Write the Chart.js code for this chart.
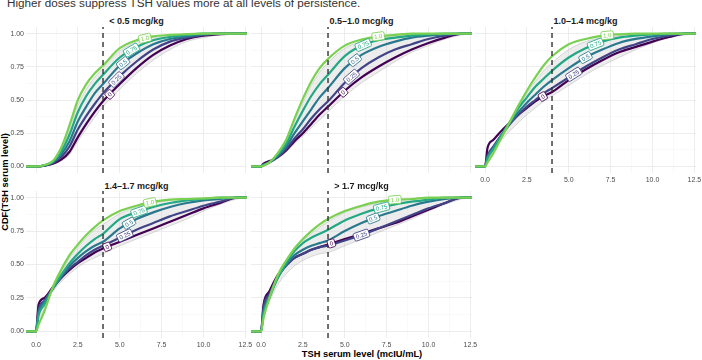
<!DOCTYPE html>
<html><head><meta charset="utf-8">
<script src="https://cdn.jsdelivr.net/npm/chart.js@4.4.1/dist/chart.umd.min.js"></script>
<style>
html,body{margin:0;padding:0;background:#fff;width:702px;height:360px;overflow:hidden;position:relative;font-family:"Liberation Sans",Arial,sans-serif;}
canvas{position:absolute;}
.t{position:absolute;white-space:nowrap;}
#title{left:7px;top:-3px;font-size:11.7px;line-height:12px;color:#333;}
.strip{font-size:9px;font-weight:bold;color:#1a1a1a;line-height:10px;transform:translate(-50%,-50%);}
#ylab{left:4.5px;top:182px;font-size:9.3px;font-weight:bold;color:#000;line-height:10px;transform:translate(-50%,-50%) rotate(-90deg);}
#xlab{left:362px;top:354px;font-size:9.3px;font-weight:bold;color:#000;line-height:10px;transform:translate(-50%,-50%);}
</style></head>
<body>
<div id="title" class="t">Higher doses suppress TSH values more at all levels of persistence.</div>
<div id="ylab" class="t">CDF(TSH serum level)</div>
<div id="xlab" class="t">TSH serum level (mcIU/mL)</div>
<script>
// ---------- data ----------
const doseGroups = ['< 0.5 mcg/kg', '0.5–1.0 mcg/kg', '1.0–1.4 mcg/kg', '1.4–1.7 mcg/kg', '> 1.7 mcg/kg'];
const persistence = ['0', '0.25', '0.5', '0.75', '1.0'];
const xMajor = [0, 2.5, 5, 7.5, 10, 12.5];
const xTickLabels = ['0.0', '2.5', '5.0', '7.5', '10.0', '12.5'];
const xMinor = [1.25, 3.75, 6.25, 8.75, 11.25];
const yMajor = [0, 0.25, 0.5, 0.75, 1];
const yTickLabels = ['0.00', '0.25', '0.50', '0.75', '1.00'];
const yMinor = [0.125, 0.375, 0.625, 0.875];
const threshold = 4;

// TSH values at which the CDFs were read
const tsh = [-0.6, 0, 0.15, 0.5, 1, 1.5, 2, 2.5, 3, 3.5, 4, 5, 6, 7, 8, 9, 10, 11, 12, 12.6];

// < 0.5 mcg/kg
const lt05_p0   = [0,0,0,0.005,0.02,0.05,0.11,0.22,0.32,0.41,0.49,0.62,0.74,0.84,0.91,0.96,0.985,0.997,1,1];
const lt05_p25  = [0,0,0,0.006,0.025,0.07,0.15,0.28,0.38,0.47,0.55,0.68,0.79,0.88,0.94,0.97,0.99,1,1,1];
const lt05_p50  = [0,0,0,0.007,0.03,0.09,0.19,0.34,0.45,0.55,0.62,0.76,0.85,0.92,0.96,0.98,0.995,1,1,1];
const lt05_p75  = [0,0,0,0.008,0.035,0.11,0.24,0.41,0.53,0.62,0.69,0.82,0.9,0.95,0.975,0.99,1,1,1,1];
const lt05_p100 = [0,0,0,0.01,0.04,0.14,0.31,0.5,0.62,0.7,0.76,0.89,0.95,0.98,0.99,0.997,1,1,1,1];
const lt05_low  = [0,0,0,0.003,0.015,0.04,0.09,0.19,0.28,0.37,0.45,0.58,0.7,0.8,0.88,0.94,0.97,0.99,1,1];
const lt05_high = [0,0,0,0.009,0.038,0.12,0.28,0.46,0.58,0.67,0.74,0.87,0.94,0.97,0.985,0.995,1,1,1,1];

// 0.5–1.0 mcg/kg
const d0510_p0   = [0,0,0.02,0.04,0.07,0.12,0.19,0.25,0.32,0.39,0.45,0.57,0.67,0.75,0.82,0.88,0.93,0.97,1,1];
const d0510_p25  = [0,0,0.01,0.03,0.07,0.13,0.21,0.28,0.36,0.43,0.49,0.63,0.74,0.82,0.88,0.92,0.96,0.985,1,1];
const d0510_p50  = [0,0,0.01,0.03,0.08,0.15,0.25,0.34,0.43,0.52,0.59,0.74,0.84,0.9,0.94,0.97,0.985,0.995,1,1];
const d0510_p75  = [0,0,0.01,0.03,0.09,0.17,0.3,0.42,0.53,0.62,0.69,0.83,0.91,0.95,0.97,0.985,0.995,1,1,1];
const d0510_p100 = [0,0,0.005,0.03,0.1,0.2,0.36,0.51,0.64,0.74,0.81,0.91,0.955,0.98,0.99,1,1,1,1,1];
const d0510_low  = [0,0,0.01,0.03,0.06,0.11,0.17,0.23,0.29,0.35,0.41,0.53,0.63,0.71,0.79,0.86,0.91,0.96,0.99,1];
const d0510_high = [0,0,0.005,0.03,0.1,0.19,0.34,0.48,0.61,0.71,0.78,0.89,0.94,0.97,0.985,0.995,1,1,1,1];

// 1.0–1.4 mcg/kg
const d1014_p0   = [0,0,0.14,0.2,0.27,0.33,0.39,0.44,0.49,0.53,0.56,0.65,0.73,0.8,0.86,0.9,0.94,0.975,1,1];
const d1014_p25  = [0,0,0.08,0.15,0.24,0.32,0.39,0.45,0.5,0.55,0.59,0.67,0.75,0.82,0.88,0.92,0.96,0.985,1,1];
const d1014_p50  = [0,0,0.07,0.14,0.24,0.33,0.41,0.48,0.54,0.6,0.65,0.74,0.82,0.88,0.93,0.96,0.98,0.995,1,1];
const d1014_p75  = [0,0,0.06,0.13,0.24,0.34,0.44,0.52,0.6,0.66,0.72,0.82,0.89,0.94,0.97,0.985,0.995,1,1,1];
const d1014_p100 = [0,0,0.03,0.1,0.22,0.34,0.46,0.57,0.67,0.76,0.83,0.92,0.96,0.985,0.995,1,1,1,1,1];
const d1014_low  = [0,0,0.08,0.13,0.2,0.27,0.33,0.39,0.44,0.49,0.53,0.61,0.69,0.76,0.82,0.88,0.93,0.97,0.99,1];
const d1014_high = [0,0,0.05,0.12,0.23,0.34,0.45,0.55,0.64,0.72,0.78,0.88,0.94,0.97,0.985,0.995,1,1,1,1];

// 1.4–1.7 mcg/kg
const d1417_p0   = [0,0,0.2,0.25,0.33,0.4,0.46,0.51,0.55,0.59,0.62,0.67,0.72,0.77,0.82,0.87,0.92,0.96,1,1];
const d1417_p25  = [0,0,0.16,0.23,0.32,0.4,0.47,0.52,0.57,0.61,0.64,0.7,0.76,0.81,0.86,0.9,0.94,0.97,1,1];
const d1417_p50  = [0,0,0.14,0.22,0.32,0.41,0.49,0.55,0.6,0.64,0.67,0.77,0.84,0.89,0.93,0.96,0.98,0.99,1,1];
const d1417_p75  = [0,0,0.12,0.2,0.32,0.42,0.51,0.58,0.64,0.69,0.73,0.84,0.89,0.93,0.96,0.98,0.99,1,1,1];
const d1417_p100 = [0,0,0.05,0.15,0.33,0.46,0.57,0.65,0.72,0.78,0.83,0.9,0.94,0.97,0.985,0.99,0.995,1,1,1];
const d1417_low  = [0,0,0.15,0.22,0.3,0.37,0.43,0.48,0.52,0.55,0.58,0.64,0.69,0.74,0.79,0.84,0.9,0.95,0.99,1];
const d1417_high = [0,0,0.08,0.17,0.32,0.44,0.55,0.63,0.7,0.76,0.8,0.88,0.93,0.96,0.98,0.99,0.995,1,1,1];

// > 1.7 mcg/kg
const gt17_p0   = [0,0,0.2,0.3,0.42,0.5,0.55,0.58,0.61,0.63,0.65,0.69,0.73,0.77,0.81,0.86,0.91,0.96,1,1];
const gt17_p25  = [0,0,0.18,0.28,0.41,0.49,0.55,0.58,0.61,0.63,0.64,0.68,0.72,0.77,0.82,0.87,0.92,0.96,1,1];
const gt17_p50  = [0,0,0.15,0.26,0.4,0.5,0.57,0.61,0.64,0.66,0.68,0.75,0.81,0.86,0.9,0.94,0.97,0.99,1,1];
const gt17_p75  = [0,0,0.13,0.25,0.4,0.51,0.6,0.66,0.7,0.73,0.76,0.83,0.88,0.92,0.95,0.97,0.985,1,1,1];
const gt17_p100 = [0,0,0.1,0.25,0.42,0.53,0.62,0.69,0.75,0.8,0.84,0.9,0.94,0.97,0.985,0.99,1,1,1,1];
const gt17_low  = [0,0,0.12,0.22,0.35,0.43,0.49,0.53,0.56,0.58,0.59,0.64,0.69,0.74,0.79,0.84,0.9,0.95,0.99,1];
const gt17_high = [0,0,0.1,0.24,0.41,0.52,0.61,0.68,0.73,0.78,0.82,0.89,0.93,0.96,0.98,0.99,1,1,1,1];

// TSH value where each persistence label sits on its curve
const labelAt_lt05  = [4.4, 4.8, 5.2, 5.7, 6.5];
const labelAt_d0510 = [4.9, 5.4, 5.6, 6.1, 7.0];
const labelAt_d1014 = [3.45, 5.3, 6.0, 6.6, 7.3];
const labelAt_d1417 = [4.25, 5.3, 5.55, 6.15, 6.8];
const labelAt_gt17  = [4.2, 6.0, 6.7, 7.2, 8.0];

// ---------- style ----------
const colors = ['#440154', '#414487', '#2A788E', '#22A884', '#7AD151'];
const FONT = '"Liberation Sans", Arial, sans-serif';
const xMin = -0.6, xMax = 12.6, yMin = -0.05, yMax = 1.05;
const PL = [26, 251, 475], PW = 221, PT = [27, 191], PH = [146, 147];
const YW = 26, XH = 14, RPAD = 10;
const stripY = [21, 185.5];

const panels = [
  {row:0, col:0, curves:[lt05_p0,lt05_p25,lt05_p50,lt05_p75,lt05_p100], band:[lt05_low,lt05_high], labelAt:labelAt_lt05, showX:false, showY:true},
  {row:0, col:1, curves:[d0510_p0,d0510_p25,d0510_p50,d0510_p75,d0510_p100], band:[d0510_low,d0510_high], labelAt:labelAt_d0510, showX:false, showY:false},
  {row:0, col:2, curves:[d1014_p0,d1014_p25,d1014_p50,d1014_p75,d1014_p100], band:[d1014_low,d1014_high], labelAt:labelAt_d1014, showX:true, showY:false},
  {row:1, col:0, curves:[d1417_p0,d1417_p25,d1417_p50,d1417_p75,d1417_p100], band:[d1417_low,d1417_high], labelAt:labelAt_d1417, showX:true, showY:true},
  {row:1, col:1, curves:[gt17_p0,gt17_p25,gt17_p50,gt17_p75,gt17_p100], band:[gt17_low,gt17_high], labelAt:labelAt_gt17, showX:true, showY:false}
];

// curve labels drawn along the lines
const curveLabels = {
  id: 'curveLabels',
  afterDatasetsDraw(chart) {
    const opts = chart.options.plugins.curveLabels;
    if (!opts || !opts.items) return;
    const {ctx} = chart;
    const xs = chart.scales.x, ys = chart.scales.y;
    opts.items.forEach(it => {
      const data = chart.data.datasets[it.dataset].data;
      const f = v => {
        for (let j = 0; j < data.length - 1; j++) {
          if (v >= data[j].x && v <= data[j+1].x) {
            const t = (v - data[j].x) / (data[j+1].x - data[j].x);
            return data[j].y + t * (data[j+1].y - data[j].y);
          }
        }
        return data[data.length-1].y;
      };
      const px = xs.getPixelForValue(it.at), py = ys.getPixelForValue(f(it.at));
      const d = 0.4;
      const ang = Math.atan2(ys.getPixelForValue(f(it.at + d)) - ys.getPixelForValue(f(it.at - d)),
                             xs.getPixelForValue(it.at + d) - xs.getPixelForValue(it.at - d));
      ctx.save();
      ctx.translate(px, py);
      ctx.rotate(ang);
      ctx.font = '6px ' + FONT;
      const w = ctx.measureText(it.text).width + 4, h = 8;
      ctx.beginPath();
      ctx.roundRect(-w/2, -h/2, w, h, 1.5);
      ctx.fillStyle = '#fff';
      ctx.fill();
      ctx.lineWidth = 0.8;
      ctx.strokeStyle = it.color;
      ctx.stroke();
      ctx.fillStyle = it.color;
      ctx.textAlign = 'center';
      ctx.textBaseline = 'middle';
      ctx.fillText(it.text, 0, 0.5);
      ctx.restore();
    });
  }
};

const toXY = arr => tsh.map((x, j) => ({x, y: arr[j]}));
const isIn = (v, list) => list.some(m => Math.abs(m - v) < 1e-9);

panels.forEach((p, i) => {
  // strip title
  const s = document.createElement('div');
  s.className = 't strip';
  s.textContent = doseGroups[i];
  s.style.left = (PL[p.col] + PW / 2) + 'px';
  s.style.top = stripY[p.row] + 'px';
  document.body.appendChild(s);

  const cv = document.createElement('canvas');
  const left = PL[p.col] - (p.showY ? YW : 0);
  const w = PW + (p.showY ? YW : 0) + RPAD;
  const h = PH[p.row] + (p.showX ? XH : 0);
  cv.width = w; cv.height = h;
  cv.style.left = left + 'px'; cv.style.top = PT[p.row] + 'px';
  cv.style.width = w + 'px'; cv.style.height = h + 'px';
  document.body.appendChild(cv);

  const datasets = [];
  datasets.push({data: toXY(p.band[0]), borderColor: 'rgba(175,175,175,0.6)', borderWidth: 0.8, pointRadius: 0, fill: false, cubicInterpolationMode: 'monotone', order: 20});
  datasets.push({data: toXY(p.band[1]), borderColor: 'rgba(175,175,175,0.6)', borderWidth: 0.8, pointRadius: 0, fill: '-1', backgroundColor: 'rgba(200,200,200,0.32)', cubicInterpolationMode: 'monotone', order: 19});
  const items = [];
  p.curves.forEach((c, k) => {
    datasets.push({label: persistence[k], data: toXY(c), borderColor: colors[k], borderWidth: 2.2, pointRadius: 0, fill: false, cubicInterpolationMode: 'monotone', order: 10 - k});
    items.push({dataset: datasets.length - 1, at: p.labelAt[k], text: persistence[k], color: colors[k]});
  });
  datasets.push({data: [{x: threshold, y: yMin}, {x: threshold, y: yMax}], borderColor: '#333', borderWidth: 1.4, borderDash: [5, 4], pointRadius: 0, fill: false, order: 0});

  new Chart(cv, {
    type: 'line',
    data: {datasets},
    options: {
      responsive: false, animation: false, devicePixelRatio: 1,
      layout: {padding: {left: 0, right: RPAD, top: 0, bottom: 0}},
      plugins: {legend: {display: false}, tooltip: {enabled: false}, curveLabels: {items}},
      scales: {
        x: {
          type: 'linear', min: xMin, max: xMax,
          border: {display: false},
          grid: {drawTicks: false,
                 color: c => isIn(c.tick.value, xMajor) ? '#ebebeb' : '#f3f3f3',
                 lineWidth: c => isIn(c.tick.value, xMajor) ? 0.9 : 0.5},
          ticks: {display: p.showX, padding: 3, color: '#4d4d4d', maxRotation: 0, autoSkip: false,
                  font: {size: 7, family: FONT},
                  callback: v => { const m = xMajor.findIndex(t => Math.abs(t - v) < 1e-9); return m >= 0 ? xTickLabels[m] : ''; }},
          afterBuildTicks: sc => { sc.ticks = xMajor.concat(xMinor).sort((a, b) => a - b).map(v => ({value: v})); },
          afterFit: sc => { sc.height = p.showX ? XH : 0; sc.paddingLeft = 0; sc.paddingRight = 0; }
        },
        y: {
          type: 'linear', min: yMin, max: yMax,
          border: {display: false},
          grid: {drawTicks: false,
                 color: c => isIn(c.tick.value, yMajor) ? '#ebebeb' : '#f3f3f3',
                 lineWidth: c => isIn(c.tick.value, yMajor) ? 0.9 : 0.5},
          ticks: {display: p.showY, padding: 2, color: '#4d4d4d', autoSkip: false,
                  font: {size: 7, family: FONT},
                  callback: v => { const m = yMajor.findIndex(t => Math.abs(t - v) < 1e-9); return m >= 0 ? yTickLabels[m] : ''; }},
          afterBuildTicks: sc => { sc.ticks = yMajor.concat(yMinor).sort((a, b) => a - b).map(v => ({value: v})); },
          afterFit: sc => { sc.width = p.showY ? YW : 0; sc.paddingTop = 0; sc.paddingBottom = 0; }
        }
      }
    },
    plugins: [curveLabels]
  });
});
</script>
</body></html>
